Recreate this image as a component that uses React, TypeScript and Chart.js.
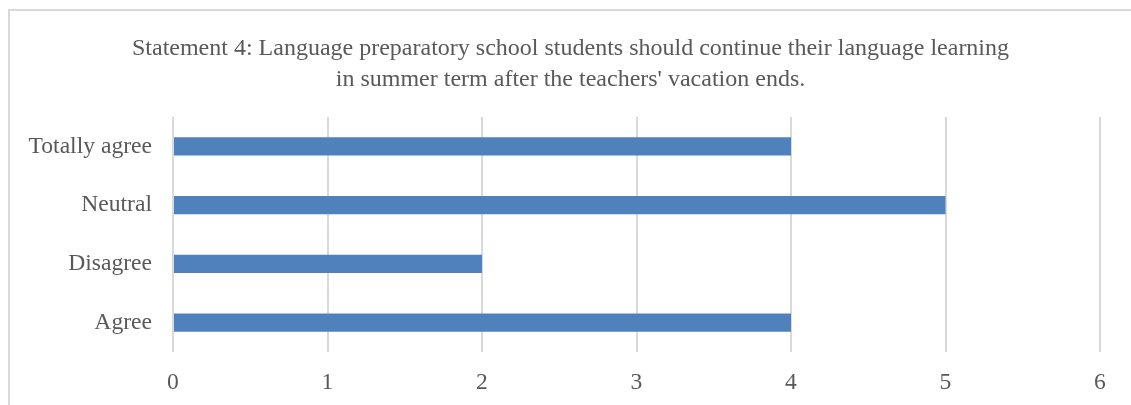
import React, { useEffect, useRef } from "react";
import { Chart, registerables } from "chart.js";

Chart.register(...registerables);

const categories = ["Totally agree", "Neutral", "Disagree", "Agree"];
const values = [4, 5, 2, 4];
const titleLines = [
  "Statement 4: Language preparatory school students should continue their language learning",
  "in summer term after the teachers' vacation ends.",
];
const xMin = 0;
const xMax = 6;

const TEXT = "#595959";
const GRID = "#d9d9d9";
const FONT = "'Liberation Serif', 'Times New Roman', serif";

export default function App() {
  const ref = useRef<HTMLCanvasElement | null>(null);
  useEffect(() => {
    if (!ref.current) return;
    const chart = new Chart(ref.current, {
      type: "bar",
      data: {
        labels: categories,
        datasets: [
          {
            data: values,
            backgroundColor: "#4f81bd",
            barPercentage: 0.31,
            categoryPercentage: 1,
          },
        ],
      },
      options: {
        indexAxis: "y",
        responsive: false,
        animation: false,
        layout: { padding: 0 },
        plugins: {
          legend: { display: false },
          tooltip: { enabled: false },
          title: {
            display: true,
            text: titleLines,
            color: TEXT,
            font: { family: FONT, size: 24, weight: "normal", lineHeight: 1.3 },
            padding: { top: 22, bottom: 21.6 },
          },
        },
        scales: {
          x: {
            min: xMin,
            max: xMax,
            ticks: {
              stepSize: 1,
              color: TEXT,
              font: { family: FONT, size: 23.6 },
              padding: 17,
            },
            grid: { color: GRID, lineWidth: 2, drawTicks: false },
            border: { display: false },
            afterFit: (s: any) => {
              s.height = 53;
            },
          },
          y: {
            ticks: {
              color: TEXT,
              font: { family: FONT, size: 23.6 },
              padding: 21,
            },
            grid: { display: false, drawTicks: false },
            border: { display: false },
            afterFit: (s: any) => {
              s.width = 163;
            },
          },
          yRight: {
            type: "linear",
            position: "right",
            display: true,
            ticks: { display: false },
            grid: { display: false, drawTicks: false },
            border: { display: false },
            afterFit: (s: any) => {
              s.width = 31;
            },
          },
        },
      },
    });
    return () => chart.destroy();
  }, []);

  return (
    <div
      style={{
        position: "fixed",
        top: 0,
        left: 0,
        width: 1131,
        height: 405,
        overflow: "hidden",
        background: "#fff",
      }}
    >
      <div
        style={{
          position: "absolute",
          top: 9,
          left: 8,
          width: 1300,
          height: 600,
          borderTop: `2px solid ${GRID}`,
          borderLeft: `2px solid ${GRID}`,
          background: "#fff",
        }}
      />
      <canvas
        ref={ref}
        width={1121}
        height={394}
        style={{ position: "absolute", top: 11, left: 10, width: 1121, height: 394 }}
      />
    </div>
  );
}
